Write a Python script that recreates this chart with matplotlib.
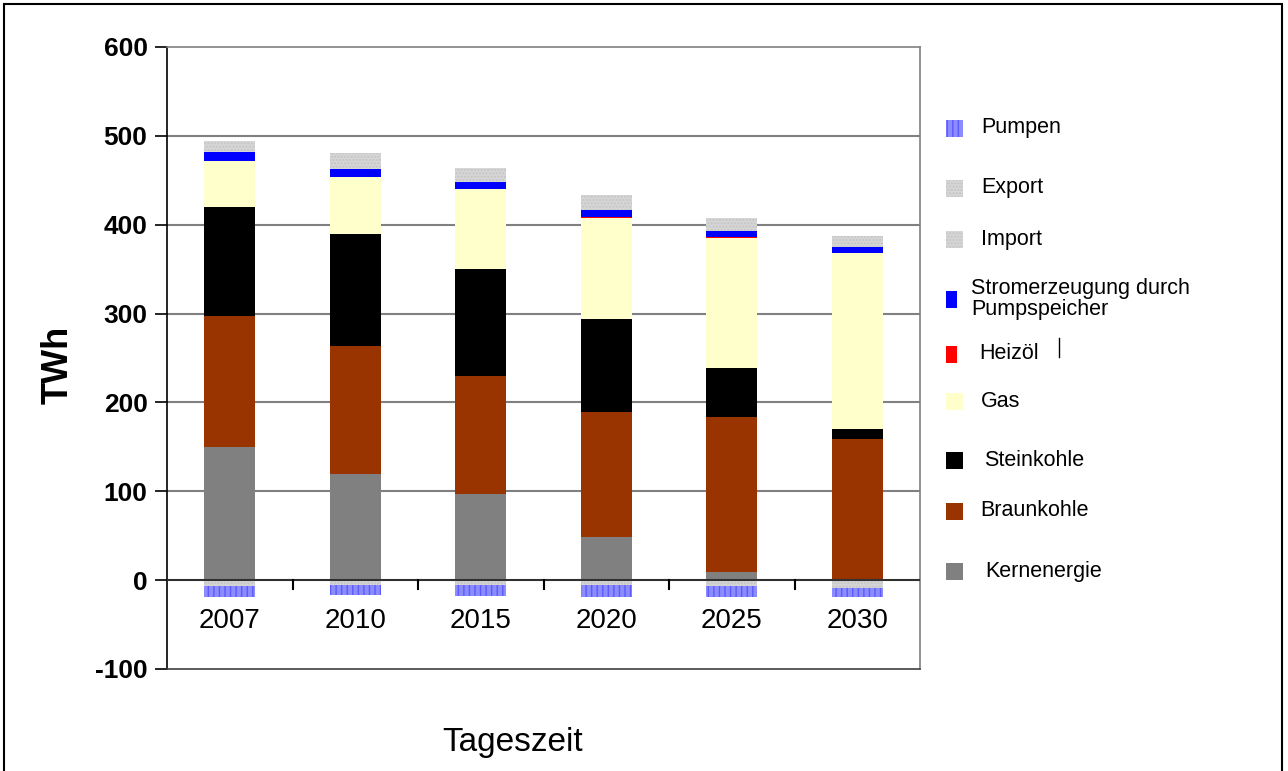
import numpy as np
import matplotlib
matplotlib.use("Agg")
import matplotlib.pyplot as plt
from matplotlib.patches import Rectangle
from matplotlib.lines import Line2D

plt.rcParams['font.family'] = ['Liberation Sans', 'DejaVu Sans']
plt.rcParams['hatch.linewidth'] = 1.0

# --- data (TWh) ---
years = ['2007', '2010', '2015', '2020', '2025', '2030']
kern = [150, 120, 97, 48, 9, 0]
braun = [147, 143, 133, 141, 175, 159]
stein = [123, 127, 120, 105, 55, 11]
gas = [52, 64, 90, 114, 146, 198]
heizoel = [0, 0, 0, 1, 1, 0]
pumpspeicher = [10, 9, 8, 8, 7, 7]
imp = [12, 18, 16, 17, 15, 12]
export = [-7, -5, -6, -6, -7, -9]
pumpen = [-12, -12, -12, -13, -12, -10]

fig = plt.figure(figsize=(12.88, 7.71), dpi=100)
ax = fig.add_axes([167 / 1288, 1 - 669 / 771, (920 - 167) / 1288, (669 - 47) / 771])

x = np.arange(len(years))
w = 0.41

# positive stack
pos_series = [
    (kern, '#808080', None, None),
    (braun, '#993300', None, None),
    (stein, '#000000', None, None),
    (gas, '#ffffcc', None, None),
    (heizoel, '#ff0000', None, None),
    (pumpspeicher, '#0000ff', None, None),
    (imp, '#d6d6d6', '#c4c4c4', '.....'),
]
bottom = np.zeros(len(years))
for vals, fc, ec, hatch in pos_series:
    vals = np.array(vals, dtype=float)
    ax.bar(x, vals, w, bottom=bottom, color=fc, edgecolor=ec if ec else fc,
           hatch=hatch, linewidth=0, zorder=3)
    bottom += vals

# negative stack
neg_series = [
    (export, '#d6d6d6', '#c4c4c4', '.....'),
    (pumpen, '#8c8cff', '#5a5aff', '|||'),
]
bottom = np.zeros(len(years))
for vals, fc, ec, hatch in neg_series:
    vals = np.array(vals, dtype=float)
    ax.bar(x, vals, w, bottom=bottom, color=fc, edgecolor=ec,
           hatch=hatch, linewidth=0, zorder=3)
    bottom += vals

ax.set_xlim(-0.5, len(years) - 0.5)
ax.set_ylim(-100, 600)
ax.set_yticks(range(-100, 601, 100))
ax.set_yticklabels([str(v) for v in range(-100, 601, 100)], fontsize=19, fontweight='bold')
ax.tick_params(axis='y', direction='out', length=9, width=1.2, pad=5)

# gridlines
for v in range(100, 600, 100):
    ax.axhline(v, color='#808080', lw=1.5, zorder=1)

# zero line with category separators
ax.axhline(0, color='#303030', lw=1.5, zorder=4)
ax.set_xticks([])
for i in range(len(years)):
    ax.text(x[i], -31, years[i], ha='center', va='top', fontsize=20)
for i in range(len(years) - 1):
    ax.plot([i + 0.5, i + 0.5], [0, -10], color='black', lw=1.5, zorder=4, clip_on=False)

for s in ['top', 'right']:
    ax.spines[s].set_color('#808080')
    ax.spines[s].set_linewidth(1.2)
ax.spines['bottom'].set_visible(False)
ax.spines['left'].set_linewidth(1.2)
ax.plot([-0.5, len(years) - 0.5], [-100, -100], color='#404040', lw=1.2, clip_on=False, zorder=5)

fig.text(58 / 1288, 1 - 365 / 771, 'TWh', rotation=90, ha='center', va='center',
         fontsize=26, fontweight='bold')
fig.text(513 / 1288, 1 - 742 / 771, 'Tageszeit', ha='center', va='center', fontsize=24)

# legend drawn by hand to match the spacing
legend_items = [
    ('Pumpen', 128, '#8c8cff', '#5a5aff', '|||', 981),
    ('Export', 188, '#d6d6d6', '#c4c4c4', '.....', 981),
    ('Import', 239, '#d6d6d6', '#c4c4c4', '.....', 981),
    ('Stromerzeugung durch\nPumpspeicher', 299, '#0000ff', None, None, 971),
    ('Heizöl', 354, '#ff0000', None, None, 979),
    ('Gas', 401, '#ffffcc', None, None, 981),
    ('Steinkohle', 460, '#000000', None, None, 984),
    ('Braunkohle', 511, '#993300', None, None, 980),
    ('Kernenergie', 571, '#808080', None, None, 985),
]
for label, ypix, fc, ec, hatch, tx in legend_items:
    wpx = 17 if fc not in ('#0000ff', '#ff0000') else 11
    fig.patches.append(Rectangle((946 / 1288, 1 - (ypix + 9) / 771), wpx / 1288, 17 / 771,
                                 transform=fig.transFigure, facecolor=fc,
                                 edgecolor=ec if ec else fc, hatch=hatch, linewidth=0))
    fig.text(tx / 1288, 1 - ypix / 771, label, ha='left', va='center', fontsize=15.5,
             linespacing=1.0)
fig.lines.append(Line2D([1059 / 1288, 1059 / 1288], [1 - 338 / 771, 1 - 357 / 771],
                        transform=fig.transFigure, color='black', lw=1))

# outer frame
fig.patches.append(Rectangle((4 / 1288, -0.01), 1278 / 1288, 1 - 4 / 771 + 0.01,
                             transform=fig.transFigure, fill=False, edgecolor='black', lw=1.5))

fig.savefig('out.png', dpi=100)
